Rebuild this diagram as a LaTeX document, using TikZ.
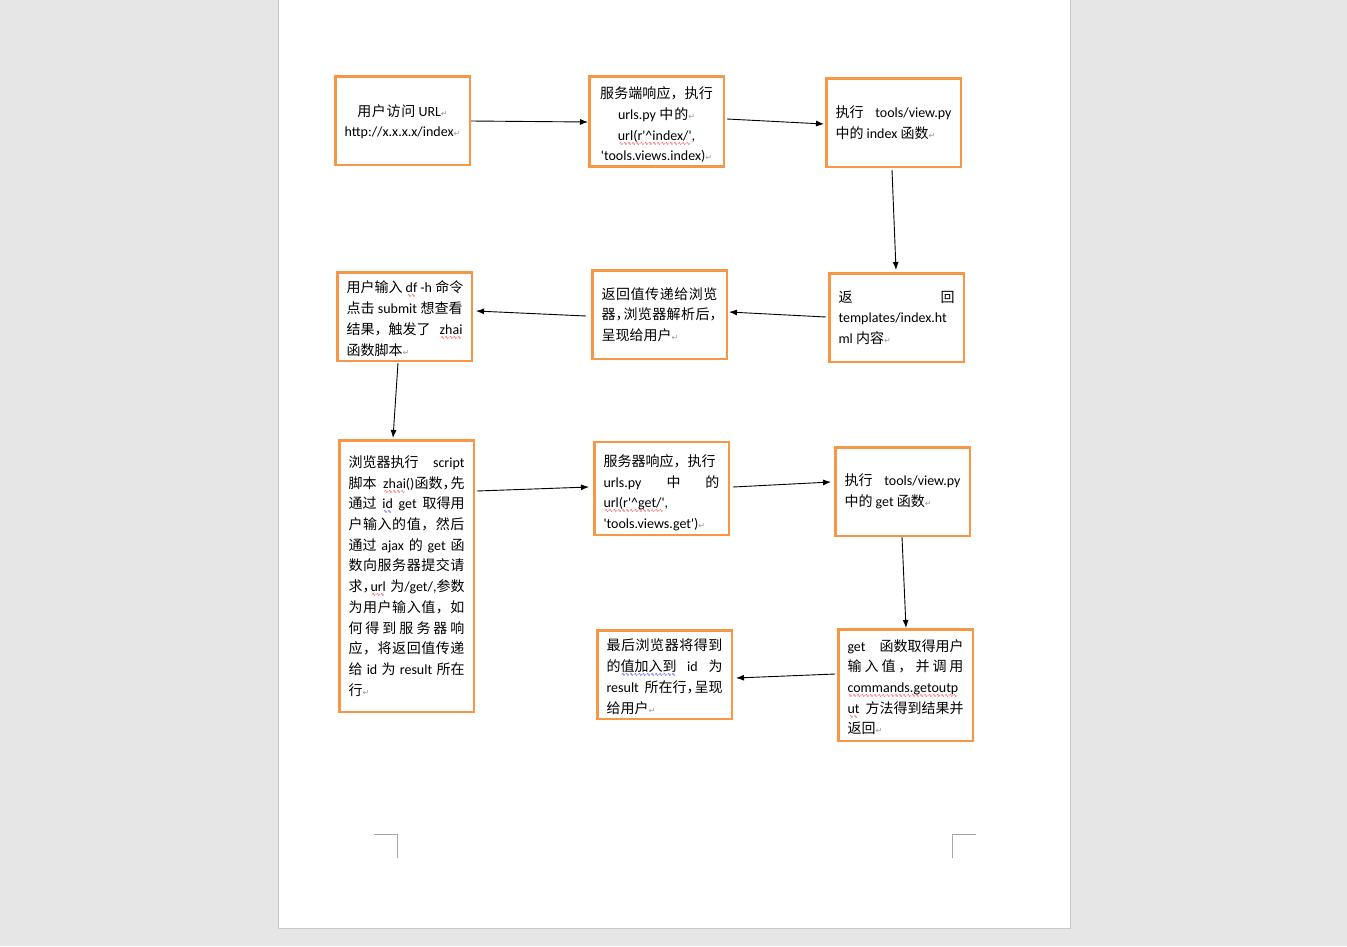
\documentclass[tikz,border=0pt]{standalone}
\usepackage{fontspec}
\usepackage{tikz}
\usetikzlibrary{arrows.meta}
\usetikzlibrary{calc}

\newfontfamily\latinfont{Carlito}
\newfontfamily\cjkfont{Noto Sans CJK SC}
\newfontfamily\markfont{DejaVu Sans}
\setlength{\parindent}{0pt}

% switch fonts between Chinese and Latin runs
\XeTeXinterchartokenstate=1
\newXeTeXintercharclass\cjkclass
\newcount\cjkcnt
\newcommand\cjkrange[2]{\cjkcnt=#1\relax
    \loop\XeTeXcharclass\cjkcnt=\cjkclass
    \ifnum\cjkcnt<#2\relax\advance\cjkcnt by 1\repeat}
\cjkrange{"3000}{"303F}
\cjkrange{"4E00}{"9FFF}
\cjkrange{"FF00}{"FFEF}
\XeTeXinterchartoks 0 \cjkclass = {\cjkfont}
\XeTeXinterchartoks 4095 \cjkclass = {\cjkfont}
\XeTeXinterchartoks \cjkclass 0 = {\latinfont}
\XeTeXinterchartoks \cjkclass 4095 = {\latinfont}
\XeTeXinterchartoks \cjkclass \cjkclass = {\hskip 0pt plus 1.5pt\relax}

\newcommand\flowfont{\latinfont\fontsize{14}{20.7}\selectfont}
\newcommand\pmk{{\markfont\fontsize{8}{8}\selectfont\color{black!40}↵}}
\newcommand\jl[1]{\leavevmode\hbox to\linewidth{\spaceskip=3.16pt plus 1fil\relax#1}}
\newcommand\hcm{\makebox[8pt][l]{，}}
\newcommand\dn[1]{\setbox2\hbox{服}\rule{0pt}{\dimexpr\ht2+#1\relax}}
\newcommand\wavy[2]{\leavevmode\begingroup\setbox0\hbox{#2}%
    \rlap{\raisebox{-5pt}{\color{#1}\hbox to\wd0{\cleaders\hbox{\markfont\fontsize{5}{5}\selectfont ∿}\hfill}}}\box0\endgroup}
\newcommand\redwave[1]{\wavy{red}{#1}}
\newcommand\bluewave[1]{\wavy{blue}{#1}}

\definecolor{boxorange}{HTML}{F79646}
\definecolor{pagegray}{HTML}{E6E6E6}
\definecolor{sheetedge}{HTML}{C8C8C8}
\definecolor{markgray}{HTML}{A6A6A6}

\tikzset{
    flow_box/.style = {draw=boxorange, line width=2.5pt, fill=white, minimum width=134.5pt, minimum height=88.5pt,
        text width=116pt, inner xsep=9.25pt, inner ysep=4pt, align=left, font=\flowfont,
        execute at begin node={\spaceskip=3.16pt\relax}},
    flow_arrow/.style = {->, >={Latex[length=8pt,width=6pt]}, line width=0.9pt, black},
    page_bg/.style = {fill=pagegray},
    page_sheet/.style = {fill=white, draw=sheetedge, line width=1pt},
    page_mark/.style = {draw=markgray, line width=1pt}
}

\begin{document}
\begin{tikzpicture}[x=1pt, y=-1pt]
    \useasboundingbox (0,0) rectangle (1347,946);
    % page
    \fill [page_bg] (0,0) rectangle (1347,946);
    \filldraw [page_sheet] (278.5,-2) rectangle (1070.5,928.5);
    \draw [page_mark] (374,834.5) -- (397.5,834.5) -- (397.5,858);
    \draw [page_mark] (975.5,834.5) -- (952.5,834.5) -- (952.5,858);

    % first row
    \node [flow_box, align=center] (visit) at (402.5,120.5)
        {\dn{3pt}用户访问 URL\pmk\\ http://x.x.x.x/index\pmk};
    \node [flow_box, align=center] (respond) at (656.5,121.5)
        {\dn{7pt}服务端响应，执行\\ urls.py 中的\pmk\\ \redwave{url(r'\textasciicircum index/'},\\ 'tools.views.index)\pmk};
    \node [flow_box] (execidx) at (893.5,122.5)
        {\jl{执行 tools/view.py}\\ 中的 index 函数\pmk};

    % second row
    \node [flow_box] (inputcmd) at (404.5,316.5)
        {\jl{\dn{5pt}用户输入 \redwave{df} -h 命令}\\ \jl{点击 submit 想查看}\\ \jl{结果，触发了 \redwave{zhai}}\\ 函数脚本\pmk};
    \node [flow_box] (tobrowser) at (659.5,314.5)
        {\jl{返回值传递给浏览}\\ \jl{器\hcm 浏览器解析后\hcm}\\ 呈现给用户\pmk};
    \node [flow_box] (template) at (896.5,317.5)
        {\jl{返 回}\\ templates/index.ht\\ ml 内容\pmk};

    % third row
    \node [flow_box, minimum height=271.5pt] (runscript) at (406.5,576)
        {\jl{浏览器执行 script}\\
         \jl{脚本 \redwave{zhai}()函数\hcm 先}\\
         \jl{通过 \bluewave{id} get 取得用}\\
         \jl{户输入的值，然后}\\
         \jl{通过 ajax 的 get 函}\\
         \jl{数向服务器提交请}\\
         \jl{求\hcm\redwave{url} 为/get/,参数}\\
         \jl{为用户输入值，如}\\
         \jl{何得到服务器响}\\
         \jl{应，将返回值传递}\\
         \jl{给 id 为 result 所在}\\
         行\pmk};
    \node [flow_box] (respget) at (661.5,488.5)
        {\dn{9pt}服务器响应，执行\\ \jl{urls.py 中 的}\\ \redwave{url(r'\textasciicircum get/'},\\ 'tools.views.get')\pmk};
    \node [flow_box] (execget) at (902.5,491.5)
        {\jl{执行 tools/view.py}\\ 中的 get 函数\pmk};

    % last row
    \node [flow_box] (showres) at (664.5,674.5)
        {\jl{\dn{5pt}最后浏览器将得到}\\ \jl{的\bluewave{值加入到} id 为}\\ \jl{result 所在行\hcm 呈现}\\ 给用户\pmk};
    \node [flow_box, minimum height=111.5pt] (getfunc) at (905.5,685)
        {\jl{\dn{5pt}get 函数取得用户}\\ \jl{输入值，并调用}\\ \redwave{commands.getoutp}\\ \jl{\redwave{ut} 方法得到结果并}\\ 返回\pmk};

    % connectors
    \draw [flow_arrow] ($(visit.east)+(0,0.5)$) -- ($(respond.west)+(0,0.5)$);
    \draw [flow_arrow] ($(respond.east)+(2,-2.5)$) -- ($(execidx.west)+(-1,1.5)$);
    \draw [flow_arrow] ($(execidx.south)+(-1.5,2)$) -- ($(template.north)+(-0.5,-2)$);
    \draw [flow_arrow] ($(template.west)+(-2,-0.5)$) -- ($(tobrowser.east)+(1,-2.5)$);
    \draw [flow_arrow] ($(tobrowser.west)+(-5,1.5)$) -- ($(inputcmd.east)+(3,-5.5)$);
    \draw [flow_arrow] ($(inputcmd.south)+(-6.5,1)$) -- ($(runscript.north)+(-13.5,-1)$);
    \draw [flow_arrow] ($(runscript.east)+(2,-85)$) -- ($(respget.west)+(-4,-1.5)$);
    \draw [flow_arrow] ($(respget.east)+(3,-1.5)$) -- ($(execget.west)+(-3,-9.5)$);
    \draw [flow_arrow] ($(execget.south)+(-0.5,0)$) -- ($(getfunc.north)+(0.5,0)$);
    \draw [flow_arrow] ($(getfunc.west)+(-2,-11)$) -- ($(showres.east)+(3,3.5)$);
\end{tikzpicture}
\end{document}
